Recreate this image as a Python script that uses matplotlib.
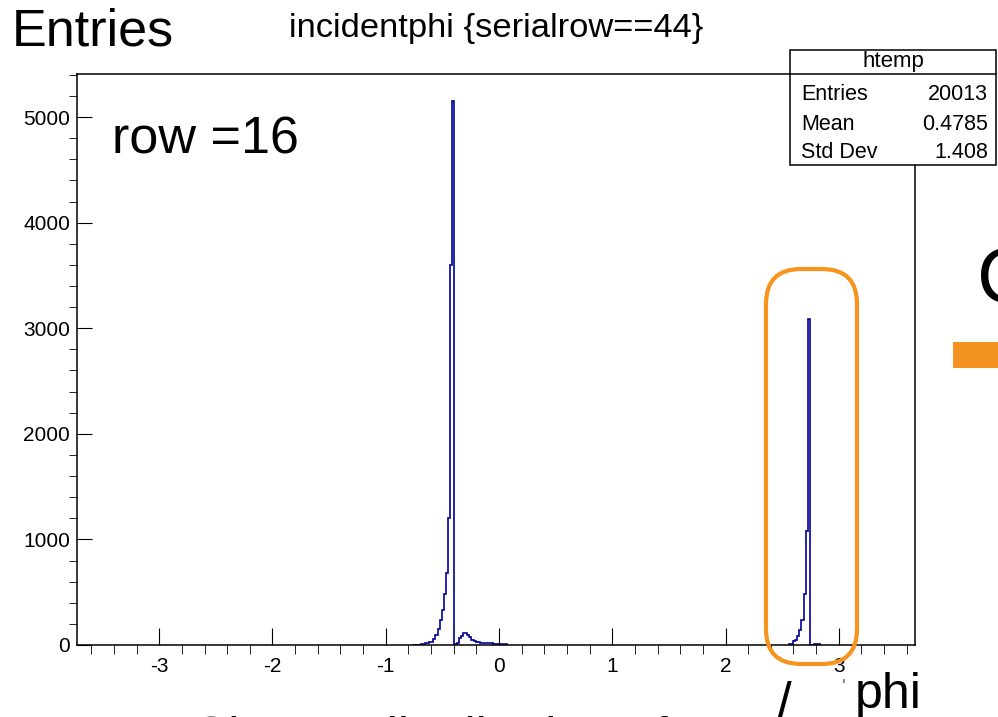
import matplotlib.pyplot as plt
import numpy as np
from matplotlib.patches import Rectangle, FancyBboxPatch
from matplotlib.lines import Line2D
from matplotlib.ticker import MultipleLocator

plt.rcParams['font.family'] = ['Liberation Sans', 'DejaVu Sans']
plt.rcParams['axes.unicode_minus'] = False

W, H = 998, 717

# incidentphi for serialrow==44, fine binning (~400 bins over the axis range)
bin_w = 0.01865
main_start = -0.766
main_counts = [3, 2, 4, 3, 5, 12, 16, 20, 25, 28,
               54, 95, 150, 235, 330, 480, 680, 1200, 3600, 5150,
               8, 20, 65, 85, 110, 112, 95, 76, 52, 35, 30, 25, 23,
               19, 20, 17, 18, 16, 11, 9, 6, 5, 7, 4, 5]
edge_start = 2.558
edge_counts = [8, 12, 35, 48, 89, 140, 240, 480, 1076, 3086, 0, 0, 10, 12, 9]

stat_entries = 20013
stat_mean = 0.4785
stat_std = 1.408

x_range = (-3.726, 3.673)


def fx(x):
    return x / W


def fy(y):
    return 1 - y / H


fig = plt.figure(figsize=(W / 100, H / 100), dpi=100)
ax = fig.add_axes([fx(77), fy(645), (915 - 77) / W, (645 - 74) / H])

for start, counts in [(main_start, main_counts), (edge_start, edge_counts)]:
    counts = np.array(counts, dtype=float)
    edges = start + bin_w * np.arange(len(counts) + 1)
    ax.stairs(counts, edges, color='#000099', lw=1.2, baseline=0)

ymax = 1.05 * max(max(main_counts), max(edge_counts))
ax.set_xlim(*x_range)
ax.set_ylim(0, ymax)

ax.xaxis.set_major_locator(MultipleLocator(1))
ax.xaxis.set_minor_locator(MultipleLocator(0.2))
ax.yaxis.set_major_locator(MultipleLocator(1000))
ax.yaxis.set_minor_locator(MultipleLocator(200))
ax.tick_params(direction='in', width=0.8, labelsize=15, colors='black')
ax.tick_params(axis='x', which='major', length=12, pad=9)
ax.tick_params(axis='x', which='minor', length=6.5)
ax.tick_params(axis='y', which='major', length=11, pad=5)
ax.tick_params(axis='y', which='minor', length=6)
for s in ax.spines.values():
    s.set_linewidth(1.1)

# titles and slide annotations
fig.text(fx(12), fy(45), 'Entries', fontsize=37.5, va='baseline')
fig.text(fx(289), fy(37), 'incidentphi {serialrow==44}', fontsize=24.8, va='baseline')
fig.text(fx(112), fy(153), 'row =16', fontsize=37.5, va='baseline')

# stats box
fig.add_artist(Rectangle((fx(790), fy(165)), (996 - 790) / W, (165 - 50) / H,
                         transform=fig.transFigure, facecolor='white',
                         edgecolor='black', lw=1.1, zorder=5))
fig.add_artist(Line2D([fx(790), fx(996)], [fy(74), fy(74)],
                      transform=fig.transFigure, color='black', lw=1.1, zorder=6))
fig.text(fx(893), fy(62), 'htemp', fontsize=16, ha='center', va='center', zorder=7)
rows = [('Entries', f'{stat_entries}'), ('Mean', f'{stat_mean:.4f}'),
        ('Std Dev', f'{stat_std:.3f}')]
for (name, val), yc in zip(rows, [95, 124, 153]):
    fig.text(fx(801), fy(yc), name, fontsize=15.5, va='center', zorder=7)
    fig.text(fx(988), fy(yc), val, fontsize=15.5, va='center', ha='right', zorder=7)

# orange highlight around the second peak
fig.add_artist(FancyBboxPatch((fx(766), fy(664)), (857 - 766) / W, (664 - 269) / H,
                              boxstyle='round,pad=0,rounding_size=0.035',
                              transform=fig.transFigure, facecolor='none',
                              edgecolor='#F7941D', lw=3, zorder=4,
                              mutation_aspect=W / H))
fig.add_artist(Rectangle((fx(953), fy(368)), (998 - 953) / W, (368 - 342) / H,
                         transform=fig.transFigure, facecolor='#F39221',
                         edgecolor='none', zorder=4))
fig.text(fx(977), fy(302), 'C', fontsize=56, va='baseline')

# slide text cut by the lower edge
fig.text(fx(192), fy(752), 'Charge distribution of', fontsize=36, va='baseline')
fig.text(fx(777), fy(720), '/', fontsize=38, va='baseline')
fig.text(fx(842), fy(692), "'", fontsize=14, color='#666666', va='baseline')
fig.text(fx(855), fy(708), 'phi', fontsize=36, va='baseline')

fig.savefig('out.png', dpi=100)
